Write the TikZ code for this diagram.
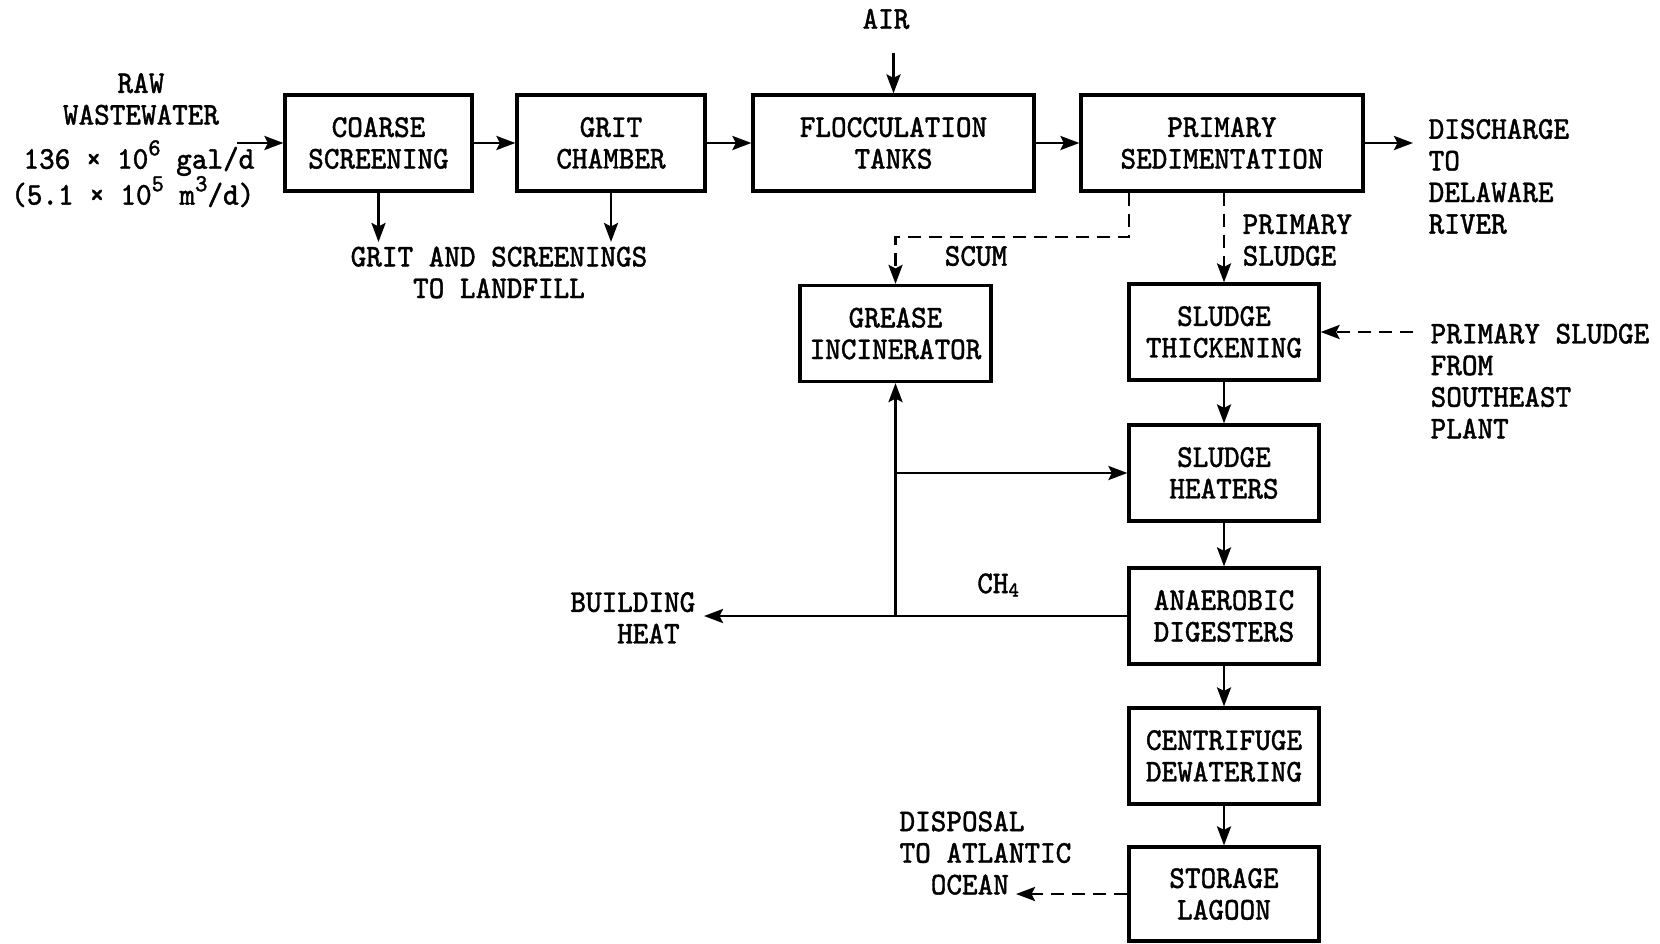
\documentclass[tikz,border=0pt]{standalone}
\usepackage{fontspec}
\setmonofont[FakeStretch=0.94,FakeBold=1.2]{Latin Modern Mono}
\usepackage{tikz}
\usetikzlibrary{arrows.meta,positioning,calc}
\newcommand{\supx}[1]{\smash{\raisebox{0.42em}{\fontsize{7}{7}\selectfont #1}}}
\tikzset{
  >={Stealth[length=1.9mm,width=1.4mm,inset=0.35mm]},
  ptext/.style={font=\ttfamily\fontsize{9}{9}\selectfont, inner sep=0pt},
  pbox/.style={ptext, draw=black, line width=0.9pt, align=center,
               minimum height=0.96cm},
  pflow/.style={->, line width=0.8pt},
  pdash/.style={->, line width=0.8pt, dash pattern=on 1.3mm off 0.8mm},
}

\begin{document}
\begin{tikzpicture}[x=1cm,y=1cm]
  \useasboundingbox (0,0) rectangle (16.6,9.43);

  % main stream
  \node[pbox, minimum width=1.87cm] (coarse)  at (3.785,8.0)  {COARSE\\SCREENING};
  \node[pbox, minimum width=1.88cm] (grit)    at (6.11,8.0)   {GRIT\\CHAMBER};
  \node[pbox, minimum width=2.81cm] (floc)    at (8.935,8.0)  {FLOCCULATION\\TANKS};
  \node[pbox, minimum width=2.82cm] (primsed) at (12.22,8.0)  {PRIMARY\\SEDIMENTATION};

  % sludge line
  \node[pbox, minimum width=1.91cm] (grease)  at (8.955,6.095) {GREASE\\INCINERATOR};
  \node[pbox, minimum width=1.90cm] (thick)   at (12.24,6.11)  {SLUDGE\\THICKENING};
  \node[pbox, minimum width=1.90cm] (heaters) at (12.24,4.70)  {SLUDGE\\HEATERS};
  \node[pbox, minimum width=1.90cm] (digest)  at (12.24,3.27)  {ANAEROBIC\\DIGESTERS};
  \node[pbox, minimum width=1.90cm] (centri)  at (12.24,1.87)  {CENTRIFUGE\\DEWATERING};
  \node[pbox, minimum width=1.90cm, minimum height=0.94cm] (storage) at (12.24,0.49) {STORAGE\\LAGOON};

  % labels
  \node[ptext, align=center] (raw) at (1.41,8.44) {RAW\\WASTEWATER};
  \node[ptext, align=right, anchor=east] (flowrate) at (2.55,7.66)
    {136 × 10\supx{6} gal/d\\[1.2pt](5.1 × 10\supx{5} m\supx{3}/d)};
  \node[ptext] (airlbl) at (8.86,9.24) {AIR};
  \node[ptext, align=left, anchor=west] (river) at (14.28,7.665)
    {DISCHARGE\\TO\\DELAWARE\\RIVER};
  \node[ptext, align=center] (landfill) at (4.99,6.705)
    {GRIT AND SCREENINGS\\TO LANDFILL};
  \node[ptext] (scum) at (9.76,6.87) {SCUM};
  \node[ptext, align=left, anchor=west] (pslbl) at (12.42,7.03) {PRIMARY\\SLUDGE};
  \node[ptext, align=left, anchor=west] (seplant) at (14.30,5.62)
    {PRIMARY SLUDGE\\FROM\\SOUTHEAST\\PLANT};
  \node[ptext] (ch4) at (9.99,3.58) {CH\textsubscript{4}};
  \node[ptext, align=left, anchor=east] (bheat) at (6.96,3.25)
    {BUILDING\\\phantom{BUI}HEAT};
  \node[ptext, align=left, anchor=east] (ocean) at (10.72,0.90)
    {DISPOSAL\\TO ATLANTIC\\\phantom{TO}OCEAN};

  % free ends
  \coordinate (rawin)   at (2.37,8.0);
  \coordinate (airin)   at (8.935,8.90);
  \coordinate (riverout) at (14.13,8.0);
  \coordinate (coarseout) at (3.785,7.01);
  \coordinate (gritout) at (6.11,7.01);
  \coordinate (scumtap) at (11.29,7.06);
  \coordinate (sein)    at (14.13,6.11);
  \coordinate (heatout) at (7.04,3.27);
  \coordinate (oceanout) at (10.16,0.49);

  % connectors
  \draw[pflow] (rawin) -- (coarse);
  \draw[pflow] (coarse) -- (grit);
  \draw[pflow] (grit) -- (floc);
  \draw[pflow] (floc) -- (primsed);
  \draw[pflow] (primsed) -- (riverout);
  \draw[pflow] (airin) -- (floc.north);
  \draw[pflow] (coarse.south) -- (coarseout);
  \draw[pflow] (grit.south) -- (gritout);

  \draw[pdash] (primsed.south -| scumtap) -- (scumtap) -- (scumtap -| grease)
    -- (grease.north);
  \draw[pdash] (primsed.south -| thick) -- (thick.north);
  \draw[pdash] (sein) -- (thick.east);

  \draw[pflow] (thick) -- (heaters);
  \draw[pflow] (heaters) -- (digest);
  \draw[pflow] (digest) -- (centri);
  \draw[pflow] (centri) -- (storage);

  \draw[pflow] (digest.west) -- (heatout);
  \draw[pflow] (grease |- digest.west) -- (grease.south);
  \draw[pflow] (grease |- heaters.west) -- (heaters.west);

  \draw[pdash] (storage.west) -- (oceanout);

\end{tikzpicture}
\end{document}
